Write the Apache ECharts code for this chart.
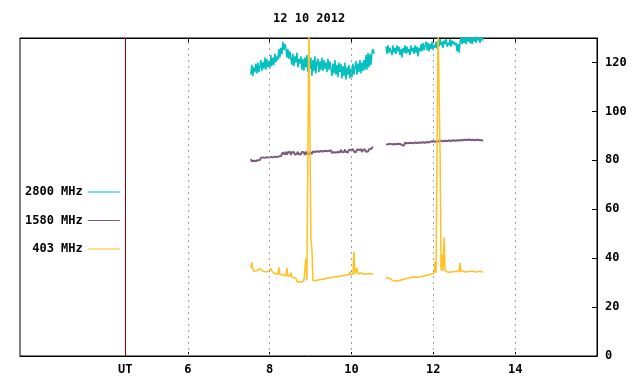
<!DOCTYPE html>
<html>
<head>
<meta charset="utf-8">
<script src="https://cdn.jsdelivr.net/npm/echarts@6/dist/echarts.min.js"></script>
<style>
html,body{margin:0;padding:0;background:#fff;}
#chart{width:640px;height:384px;}
</style>
</head>
<body>
<div id="chart"></div>
<script>
// ---- data (UT hours, solar flux units) ----
const titleText = '12 10 2012';
const seriesNames = ['2800 MHz', '1580 MHz', '403 MHz'];
const xTickValues = [6, 8, 10, 12, 14];
const utPosition = 4.47;
const sampleStep = 0.024465;       // sampling interval, hours
const seg1Start = 7.541;           // first block start, hours
const seg2Start = 10.844;          // second block start, hours

const v2800a = [115,119,114.5,118,116, 119.5,115.5,120,116,118.5,
  121,116.5,120,117.5,122,117,121.5,118,120.5,117.5,
  123,118.5,122,119,123.5,120,122.5,
  121,125.5,122,126,123.5,
  128.5,125,127.5,
  126,122,125.5,121.5,124.5,
  124,119,123.5,118.5,122.5,120,124,118,121.5,119.5,
  122.5,117,121.5,116.5,122,118,123,116,120.5,117.5,
  122,114.5,121,116.5,122.5,115.5,120,
  121.5,116,120.5,117,122,116.5,121,117.5,120,116,121.5,117,120.5,
  120.5,114.5,119.5,115.5,121,115,119,114,120,116,
  119.5,113.5,118.5,114.5,120,113,118,115,119,113.5,117.5,114,119.5,115,118,
  120.5,115,119.5,116,121,115.5,120,116.5,121,117,
  123,117,124,118,123.5,119,124,
  125.5,123.5];
const v2800b = [126.5,123.5,127,124,126,
  126.5,123,127,124,126,123.5,127,124.5,126.5,123,125.5,122,126,124,127,123.5,126.5,124,125.5,123,127,124.5,126,123.5,127,124,126.5,122.5,126,124.5,
  127.5,124.5,128,125,127,
  128.5,125,128,124.5,127.5,125.5,128.5,125,127,126,128.5,125.5,
  129,126.5,129.5,127,128.5,126,129,127.5,129.5,126.5,128,127,129.5,126.5,129,127.5,128.5,127,
  128,124.5,127.5,124,128.5,
  130.5,127.5,130,128,131,127.5,130.5,128.5,131,128,130,127.5,131,128.5,130.5,128,131,129,130.5,128,131,129,130];

const v1580a = [80.5,79.6,80.4,79.8,80.6,79.7,80.5,80,80.7,80.1,
  81,80.2,81.2,80.4,81,80.3,81.3,80.6,81.1,80.5,81.4,80.7,81.2,80.6,81.5,80.8,81.3,80.9,81.6,81,
  81.8,82.5,83.2,
  83.4,82.4,83.5,82.3,83.2,82.6,83.5,82.2,83.3,82.7,83.4,82.3,83.1,82.6,83.5,82.4,83.2,82.5,83.4,82.7,83.3,82.2,83.5,82.6,83.2,82.5,83.4,
  83.5,82.6,83.6,82.8,83.4,82.7,83.7,82.9,83.5,82.8,83.8,83,83.6,82.9,83.9,83.1,83.7,83,83.9,83.2,84,83.1,83.8,83.3,84.1,83.2,83.9,83.4,84.2,83.3,
  84.3,83.4,84,83.3,84.4,83.5,84.1,83.2,84.3,83.6,84.2,83.4,84.5,83.5,84.1,83.3,84.4,83.6,84.2,83.5,84.5,83.4,84.3,83.7,84.4,83.5,84.2,83.6,84.5,83.8,84.6,84.2,
  85.6];
const v1580b = [86.5,85.7,86.6,85.9,86.8,86,86.5,85.8,86.7,86.1,86.6,85.9,86.8,86.2,86.7,
  87,86.2,86.9,86.1,87.2,86.4,87,86.3,87.1,86.5,87.2,86.4,86.9,86.6,87.3,86.5,87.1,86.7,87.3,86.6,87.2,86.8,87.4,86.7,87.2,86.9,87.5,86.8,87.3,87,
  87.7,86.9,87.8,87.1,87.6,87,87.9,87.2,87.7,87.1,88,87.3,87.8,87.2,88,87.4,87.9,87.3,88.1,87.5,87.9,87.4,88.2,87.6,88,87.5,88.2,87.7,88.1,87.6,
  88.3,87.6,88.2,87.8,88.4,87.7,88.3,87.9,88.5,87.8,88.3,87.7,88.4,88,88.2,87.8,88.4,87.9,88.3,87.7,88.2,87.9,88.1];

const v403a = [36,38.2,35.4,35,34.6,35,34.8,35.4,35.6,35.2,
  35.6,35,34.6,34.2,34.4,34,34.4,34.2,34.6,35.2,
  35.8,34.8,34.2,33.8,34,33.6,33.8,33.4,36.2,33.4,
  33,33.2,32.8,33,32.6,32.8,36,32.6,32.4,32.8,
  34,32.2,31.8,32,31.6,31.8,31.2,30,30.8,30.4,
  30.6,30.2,30.5,30.7,30.4,40,31,31.2,135,135,
  47.5,43.5,31,31.2,30.8,31.3,31,31.4,31.2,31.5,
  31.3,31.6,31.4,31.7,31.6,31.9,31.8,32,31.9,32.2,
  32,32.3,32.2,32.5,32.4,32.6,32.4,32.8,32.6,32.9,
  32.7,33,32.8,33.1,33,33.3,33.1,33.4,33.2,34.6,
  33.3,33.6,33.4,42.6,33.5,33.8,36,33.6,33.4,33.8,
  33.5,33.9,33.6,33.4,33.8,33.5,33.9,33.6,33.3,33.7,
  33.4,33.6,33.3];
const v403b = [32.2,32,31.8,32.4,31.6,31.4,31,31.2,30.8,31,
  30.7,31.1,30.9,31.2,31,31.4,31.2,31.6,31.4,31.3,
  31.7,31.5,31.8,31.6,32,31.9,32.2,32,32.4,32.2,
  32.1,32.5,32.3,32.6,32.4,32.8,32.6,32.9,32.7,33.1,
  32.9,33.3,33.1,33.5,33.3,33.8,33.6,34,33.8,38.6,
  34,33.6,135,135,82.3,35,41.4,34.8,48.5,35.2,
  34.8,34.4,34.6,34.2,34.5,34.3,34.7,34.4,34.2,34.5,
  34.3,34.8,34.5,34.3,38,34.6,34.4,34.8,34.5,34.3,
  34.6,34.4,34.2,34.5,34.3,34.6,34.4,34.7,34.5,34.3,
  34.6,34.4,34.2,34.5,34.3,34.6,34.4,34.2];

// ---- build [time, value] pairs with a break between the two blocks ----
function build(a, b) {
  const out = [];
  a.forEach((v, i) => out.push([seg1Start + i * sampleStep, v]));
  out.push([(seg1Start + a.length * sampleStep + seg2Start) / 2, null]);
  b.forEach((v, i) => out.push([seg2Start + i * sampleStep, v]));
  return out;
}

const FONT = 'DejaVu Sans Mono';
const colors = ['#00c0c0', '#7b5b7b', '#ffc020'];
const widths = [1.5, 2, 1.5];

const chart = echarts.init(document.getElementById('chart'), null, {renderer: 'canvas'});
const baseText = {fontFamily: FONT, fontWeight: 'bold', fontSize: 12, color: '#000'};

const gridMarks = xTickValues.map(v => ({
  xAxis: v,
  lineStyle: {color: '#a0a0a0', type: [2, 4], width: 1}
}));
gridMarks.push({xAxis: utPosition, lineStyle: {color: '#8b0000', type: 'solid', width: 1}});

chart.setOption({
  animation: false,
  title: {
    text: titleText, left: 268, top: 8,
    textStyle: {fontFamily: FONT, fontWeight: 'bold', fontSize: 12, color: '#000'}
  },
  legend: {
    orient: 'vertical', left: 20, top: 181, align: 'right',
    itemWidth: 32, itemHeight: 14, itemGap: 16.5,
    data: seriesNames,
    formatter: n => n.padStart(8, ' '),
    itemStyle: {opacity: 0},
    lineStyle: {width: 1, opacity: 1},
    textStyle: Object.assign({}, baseText, {whiteSpace: 'pre'}),
    inactiveColor: '#ccc'
  },
  grid: {left: 20, right: 43, top: 38, bottom: 28, show: true, borderColor: '#000', borderWidth: 1, backgroundColor: 'transparent'},
  xAxis: [{
    type: 'value', min: 1.9, max: 16, position: 'bottom',
    axisLine: {show: true, lineStyle: {color: '#000', width: 1}},
    axisTick: {show: true, inside: true, length: 4, customValues: xTickValues, lineStyle: {color: '#000'}},
    axisLabel: Object.assign({}, baseText, {
      margin: 8,
      customValues: [utPosition].concat(xTickValues),
      formatter: v => Math.abs(v - utPosition) < 0.01 ? 'UT' : String(v)
    }),
    splitLine: {show: false}
  }, {
    type: 'value', min: 1.9, max: 16, position: 'top',
    axisLine: {show: true, lineStyle: {color: '#000', width: 1}},
    axisTick: {show: true, inside: true, length: 4, customValues: xTickValues, lineStyle: {color: '#000'}},
    axisLabel: {show: false},
    splitLine: {show: false}
  }],
  yAxis: {
    type: 'value', min: 0, max: 130, interval: 20, position: 'right',
    axisLine: {show: true, lineStyle: {color: '#000', width: 1}},
    axisTick: {show: true, inside: true, length: 5, lineStyle: {color: '#000'}},
    axisLabel: Object.assign({}, baseText, {margin: 8, showMaxLabel: false}),
    splitLine: {show: false}
  },
  series: [
    {
      name: seriesNames[0], type: 'line', xAxisIndex: 0, data: build(v2800a, v2800b),
      symbol: 'none', showSymbol: false, connectNulls: false,
      lineStyle: {color: colors[0], width: widths[0]}, itemStyle: {color: colors[0]},
      markLine: {silent: true, symbol: ['none', 'none'], label: {show: false}, animation: false, data: gridMarks},
      z: 2
    },
    {
      name: seriesNames[1], type: 'line', xAxisIndex: 0, data: build(v1580a, v1580b),
      symbol: 'none', showSymbol: false, connectNulls: false,
      lineStyle: {color: colors[1], width: widths[1]}, itemStyle: {color: colors[1]}, z: 3
    },
    {
      name: seriesNames[2], type: 'line', xAxisIndex: 0, data: build(v403a, v403b),
      symbol: 'none', showSymbol: false, connectNulls: false,
      lineStyle: {color: colors[2], width: widths[2]}, itemStyle: {color: colors[2]}, z: 4
    }
  ]
});
</script>
</body>
</html>
